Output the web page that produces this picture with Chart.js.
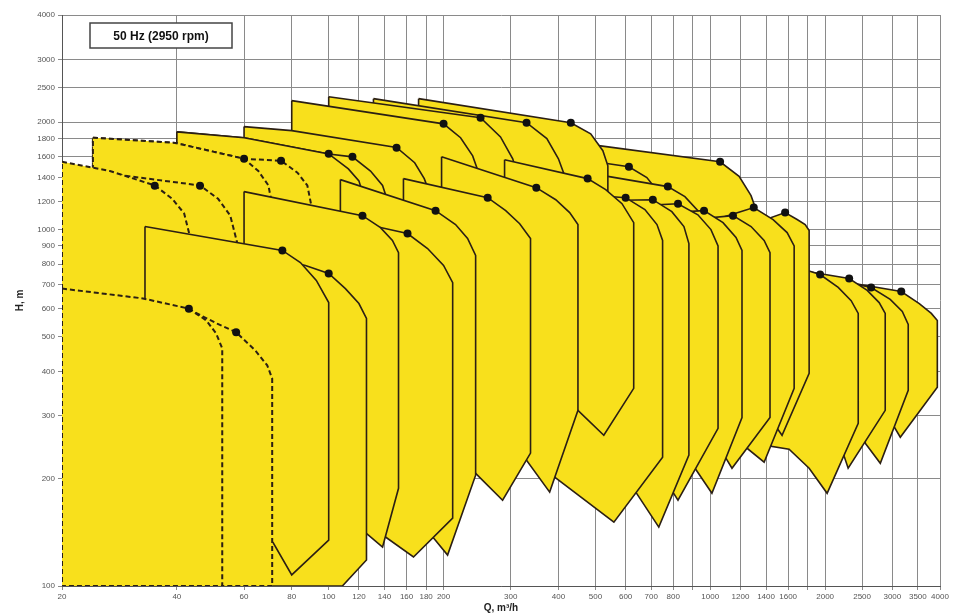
<!DOCTYPE html>
<html>
<head>
<meta charset="utf-8">
<script src="https://cdn.jsdelivr.net/npm/chart.js@4.4.1/dist/chart.umd.min.js"></script>
<style>
  html, body { margin: 0; padding: 0; background: #fff; }
  #wrap { width: 962px; height: 616px; }
</style>
</head>
<body>
<div id="wrap"><canvas id="graph" width="962" height="616"></canvas></div>
<script>
// Оси: Q, м3/ч (лог.) и H, м (лог.)
const qTicks = [20, 40, 60, 80, 100, 120, 140, 160, 180, 200, 300, 400, 500, 600, 700, 800, 900,
  1000, 1200, 1400, 1600, 1800, 2000, 2500, 3000, 3500, 4000];
const qUnlabelled = [900, 1800];
const hTicks = [100, 200, 300, 400, 500, 600, 700, 800, 900, 1000, 1200, 1400, 1600, 1800, 2000, 2500, 3000, 4000];

// Поля насосов, вершины [Q, H]
// верхний ряд
const envA3 = [[20,1550],[26.7,1460],[35,1330],[38.9,1220],[41.8,1110],[43.3,955],[43.3,240],[20,240]];
const envA4 = [[20,1500],[30.2,1410],[46,1330],[51.3,1220],[55.2,1095],[57.9,896],[57.9,240],[20,240]];
const envA5a = [[24.1,1810],[39.6,1750],[60,1580],[65.4,1460],[69.5,1330],[71.1,1170],[71.1,630],[24.1,630]];
const envA5b = [[24.1,1810],[39.6,1750],[60,1580],[75,1560],[82.8,1445],[87.9,1330],[90.6,1130],[90.6,630],[24.1,630]];
const envBa = [[40,1880],[60,1810],[100,1630],[112.6,1480],[120,1370],[122.6,1270],[122.6,630],[40,630]];
const envBb = [[40,1880],[60,1810],[100,1630],[115.4,1600],[128.7,1460],[138.4,1330],[142.6,1205],[142.6,630],[40,630]];
const envC = [[60,1945],[80,1895],[150.6,1700],[168,1540],[178,1390],[185,1245],[185,556],[60,556]];
const envT1 = [[80,2300],[200,1980],[221.6,1810],[238.4,1610],[247,1445],[247,556],[80,556]];
const envT2 = [[100,2360],[250,2060],[282,1820],[303.6,1580],[311,1445],[311,556],[100,556]];
const envT3 = [[131,2330],[330,1995],[373,1800],[400,1580],[418,1390],[418,556],[131,556]];
const envT4 = [[172,2330],[431,1995],[486,1857],[523,1665],[539,1510],[539,556],[172,556]];
const envU1 = [[510,1720],[1061,1550],[1190,1410],[1279,1245],[1326,1116],[1326,632],[510,632]];
const envU2 = [[406,1600],[612,1500],[682,1400],[733,1270],[756,1130],[756,632],[406,632]];
const envU3 = [[472,1445],[774,1320],[858,1237],[928,1130],[957,1006],[957,632],[472,632]];
// правая нижняя группа
const envL1 = [[1730,778],[1940,748],[2164,688],[2340,632],[2442,582],[2442,286],[2024,182],[1816,214],[1609,242],[1443,246.6],[1400,332],[1628,632]];
const envL2 = [[1730,768],[2312,729],[2578,675],[2771,624],[2874,582],[2874,311],[2298,214],[2244,231],[2204,332],[1894,632]];
const envL3 = [[1730,758],[2640,688],[2962,637],[3186,589],[3302,542],[3302,354],[2790,221],[2548,251.5],[2564,377.6],[2074,632]];
const envL4 = [[1730,748],[3166,670],[3530,620],[3796,582],[3936,556],[3936,361],[3148,261.5],[3016,282.5],[2892,430],[2340,632]];
// средний ряд
const envM1 = [[33,1020],[75.6,874],[84.3,808],[92.8,720],[100,624],[100,134.5],[80,107.4],[71.6,132],[58.6,168.6],[33,168.6]];
const envM1b = [[62.3,862],[86.9,793],[100,753],[110.6,683],[120,620],[125.6,563],[125.6,118.3],[108.6,100],[62.3,100]];
const envM2 = [[60,1278],[122.6,1094],[136.7,1013],[146.9,932],[152.4,862],[152.4,188],[138.4,128.6],[127.1,139],[84.3,198],[60,198]];
const envM2b = [[79.3,1116],[136.7,1013],[160.9,975],[181.6,885],[200,793],[211.3,710],[211.3,155],[166.8,120.6],[140.9,137.2],[84.3,183.4],[79.3,183.4]];
const envM3 = [[107.3,1381],[190.6,1130],[215,1033],[231.2,944],[242.7,846],[242.7,204.6],[204.9,122.1],[188.3,136.3],[121.1,211.4],[107.3,211.4]];
const envM4 = [[157,1390],[261,1229],[291,1130],[316.6,1039],[338,944],[338,236],[285.6,174],[242.7,207],[174,292],[157,292]];
const envM5 = [[197.6,1600],[350,1311],[393.6,1213],[428,1116],[450,1033],[450,311],[379.4,183.4],[330,225.4],[250,291.7],[197.6,291.7]];
const envM6 = [[289,1571],[477,1390],[532,1294],[587,1182],[630,1046],[630,358.6],[526,264.8],[450,311],[359.6,377.6],[289,377.6]];
const envM7 = [[405.6,1269],[600,1229],[674,1138],[725,1033],[750,932],[750,229.7],[559,151],[391,202],[405.6,291.7]];
const envM8 = [[486,1205],[707,1213],[793,1123],[853,1020],[879,914],[879,233],[733,146.3],[638,183.4],[517,256.4],[486,256.4]];
const envM9 = [[583,1160],[823,1182],[928,1100],[1004,1000],[1048,900],[1048,277],[823,174.1],[798,183.4],[658,256.4],[583,256.4]];
const envM10 = [[699,1109],[963,1130],[1080,1046],[1168,950],[1211,874],[1211,297],[1010,182],[912,214],[789,273.5],[699,273.5]];
const envM11 = [[838,1060],[1147,1094],[1279,1020],[1384,932],[1434,862],[1434,297],[1140,214],[1100,228],[945,273.5],[838,273.5]];
const envM12 = [[974,1046],[1300,1153],[1461,1067],[1590,981],[1659,900],[1659,358.6],[1384,222.5],[1248,243.6],[1168,311],[1004,311]];
const envM13 = [[1241,1020],[1571,1116],[1689,1067],[1773,1033],[1816,994],[1816,395],[1542,264.8],[1496,277.2],[1358,354],[1241,354]];
const envA2 = [[20,679],[32.6,637],[43,597],[51,545],[57.2,515],[64.2,458],[69,416],[71.1,382],[71.1,100],[20,100]];
const envA1 = [[20,683],[32.6,641],[43,600],[47.8,556],[50.7,511],[52.6,464],[52.6,100],[20,100]];

// Рабочие точки
const bepQ = [35, 46, 60, 75, 100, 115.4, 150.6, 200, 250, 330, 431, 612, 774, 1061,
  75.6, 100, 122.6, 160.9, 190.6, 261, 350, 477, 600, 707, 823, 963, 1147, 1300, 1571,
  1940, 2312, 2640, 3166, 43, 57.2];
const bepH = [1328, 1328, 1580, 1560, 1633, 1600, 1697, 1981, 2059, 1994, 1994, 1500, 1320, 1550,
  874, 753, 1094, 975, 1130, 1229, 1311, 1390, 1229, 1213, 1182, 1130, 1094, 1153, 1116,
  748, 729, 688, 670, 600, 515];

// порядок отрисовки: первый — самый нижний
const drawOrder = [envL4, envL3, envL2, envL1,
  envU1, envU2, envU3, envT4, envT3, envT2, envT1, envC, envBb, envBa, envA5b, envA5a, envA4, envA3,
  envM13, envM12, envM11, envM10, envM9, envM8, envM7, envM6, envM5, envM4, envM3, envM2b, envM2,
  envM1b, envM1, envA2, envA1];
const dashed = [envA1, envA2, envA3, envA4, envA5a, envA5b];

const YELLOW = '#f8e01c';
const EDGE = '#2b1f14';

function CreateDatasets() {
  const sets = drawOrder.map((env, i) => {
    const pts = env.map(p => ({ x: p[0], y: p[1] }));
    pts.push({ x: env[0][0], y: env[0][1] });
    const isDashed = dashed.includes(env);
    return {
      data: pts,
      showLine: true,
      fill: 'shape',
      backgroundColor: YELLOW,
      borderColor: EDGE,
      borderWidth: isDashed ? 2 : 1.6,
      borderDash: isDashed ? [5, 3] : [],
      pointRadius: 0,
      tension: 0,
      order: drawOrder.length - i + 1
    };
  });
  sets.push({
    data: bepQ.map((q, i) => ({ x: q, y: bepH[i] })),
    showLine: false,
    pointRadius: 4,
    pointBackgroundColor: '#111',
    pointBorderWidth: 0,
    order: 0
  });
  return sets;
}

function CreateTitleBoxPlugin() {
  return {
    id: 'titleBox',
    afterDraw: (chart) => {
      const { ctx, chartArea } = chart;
      const x = chartArea.left + 28, y = chartArea.top + 8, w = 142, h = 25;
      ctx.save();
      ctx.fillStyle = '#fff';
      ctx.fillRect(x, y, w, h);
      ctx.strokeStyle = '#444';
      ctx.lineWidth = 1.5;
      ctx.strokeRect(x, y, w, h);
      ctx.fillStyle = '#111';
      ctx.font = 'bold 12px Arial, "Liberation Sans", sans-serif';
      ctx.textAlign = 'center';
      ctx.textBaseline = 'middle';
      ctx.fillText('50 Hz (2950 rpm)', x + w / 2, y + h / 2 + 1);
      ctx.restore();
    }
  };
}

const tickFont = { family: 'Arial, "Liberation Sans", sans-serif', size: 8 };
const titleFont = { family: 'Arial, "Liberation Sans", sans-serif', size: 10, weight: 'bold' };

new Chart(document.getElementById('graph'), {
  type: 'scatter',
  data: { datasets: CreateDatasets() },
  options: {
    responsive: false,
    animation: false,
    devicePixelRatio: 1,
    events: [],
    layout: { padding: { top: 15, right: 22, left: 0, bottom: 0 } },
    plugins: { legend: { display: false }, tooltip: { enabled: false } },
    scales: {
      x: {
        type: 'logarithmic',
        min: 20,
        max: 4000,
        afterBuildTicks: axis => { axis.ticks = qTicks.map(v => ({ value: v })); },
        afterFit: axis => { axis.height = 30; },
        ticks: {
          autoSkip: false, maxRotation: 0, minRotation: 0, padding: 2,
          font: tickFont, color: '#555',
          callback: v => qUnlabelled.includes(v) ? '' : String(v)
        },
        grid: { color: '#8a8a8a', lineWidth: 1, tickLength: 4 },
        border: { color: '#555' },
        title: { display: true, text: 'Q, m³/h', font: titleFont, color: '#222', padding: { top: 0, bottom: 2 } }
      },
      y: {
        type: 'logarithmic',
        min: 100,
        max: 4000,
        afterBuildTicks: axis => { axis.ticks = hTicks.map(v => ({ value: v })); },
        afterFit: axis => { axis.width = 62; },
        ticks: {
          autoSkip: false, padding: 3, font: tickFont, color: '#555',
          callback: v => String(v)
        },
        grid: { color: '#8a8a8a', lineWidth: 1, tickLength: 4 },
        border: { color: '#555' },
        title: { display: true, text: 'H, m', font: titleFont, color: '#222', padding: { top: 14, bottom: 0 } }
      }
    }
  },
  plugins: [CreateTitleBoxPlugin()]
});
</script>
</body>
</html>
